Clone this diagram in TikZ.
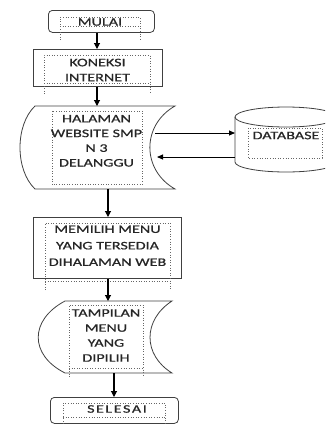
\documentclass[tikz,border=0pt]{standalone}
\usepackage{fontspec}
\setmainfont[FakeStretch=1.4,FakeBold=0.8]{Carlito}
\usetikzlibrary{arrows.meta}
\begin{document}
\begin{tikzpicture}[x=1pt,y=-1pt,
  shapeline/.style={draw=black!75,line width=0.8pt},
  dotbox/.style={draw=black!60,line width=0.6pt,dotted},
  arr/.style={line width=1.1pt,-{Triangle[length=6pt,width=6pt]}},
  lbl/.style={inner sep=0pt,align=center,text=black!85,font=\fontsize{11.5}{14.7}\selectfont},
  box/.style={shapeline,inner sep=0pt,anchor=north west},
  ghost/.style={inner sep=0pt,anchor=north west}]
\useasboundingbox (0,0) rectangle (325,424);
\clip (0,0) rectangle (325,424);
% columns
\coordinate (colA) at (97,0);
\coordinate (colB) at (108,0);
\coordinate (colC) at (114,0);
% MULAI
\node[box,rounded corners=4pt,minimum width=106pt,minimum height=22pt] (mulai) at (48,10) {};
\draw[dotbox] (60,40) -- (60,17) -- (140,17) -- (140,40);
\draw[dotbox] (60,26.5) -- (140,26.5);
\node[lbl] (tmulai) at (100,22) {MULAI};
% KONEKSI
\node[box,minimum width=129pt,minimum height=37pt] (koneksi) at (33,49) {};
\draw[dotbox] (44,94) -- (44,55) -- (150,55) -- (150,94);
\draw[dotbox] (44,83) -- (150,83);
\node[lbl,font=\fontsize{11.5}{15}\selectfont] (tkoneksi) at (97.5,70) {KONEKSI\\INTERNET};
% HALAMAN (stored data)
\node[ghost,minimum width=155pt,minimum height=83pt] (halaman) at (20,106) {};
\draw[shapeline] (35,106) -- (175,106) .. controls (141.5,125) and (141.5,170) .. (175,189)
  -- (35,189) .. controls (15,170) and (15,125) .. cycle;
\draw[dotbox] (52,111) rectangle (142,184.5);
\node[lbl] (thalaman) at (96.5,140.8) {HALAMAN\\WEBSITE SMP\\N 3\\DELANGGU};
% DATABASE (cylinder)
\node[ghost,minimum width=102pt,minimum height=65pt] (database) at (235,107) {};
\draw[shapeline] (286,117) ellipse [x radius=51pt,y radius=10pt];
\draw[shapeline] (235,117) -- (235,162) arc[start angle=180,end angle=360,x radius=51pt,y radius=10pt] -- (337,117);
\draw[dotbox] (248,128) rectangle (322,158);
\node[lbl] (tdatabase) at (286,135.5) {DATABASE};
% MEMILIH
\node[box,minimum width=148pt,minimum height=61pt] (memilih) at (33,217) {};
\draw[dotbox] (45,290) -- (45,223) -- (170,223) -- (170,290);
\draw[dotbox] (45,281) -- (170,281);
\node[lbl,font=\fontsize{11.5}{16.5}\selectfont] (tmemilih) at (107.5,245.7) {MEMILIH MENU\\YANG TERSEDIA\\DIHALAMAN WEB};
% TAMPILAN (stored data)
\node[ghost,minimum width=134pt,minimum height=72pt] (tampilan) at (38,301) {};
\draw[shapeline] (65,301) -- (172,301) .. controls (142.7,320) and (142.7,355) .. (172,373)
  -- (65,373) .. controls (29.3,355) and (29.3,320) .. cycle;
\draw[dotbox] (69,377) -- (69,305) -- (143,305) -- (143,377);
\draw[dotbox] (69,368) -- (143,368);
\node[lbl,font=\fontsize{11.5}{15}\selectfont] (ttampilan) at (106,335.5) {TAMPILAN\\MENU\\YANG\\DIPILIH};
% SELESAI
\node[box,rounded corners=4pt,minimum width=128pt,minimum height=26pt] (selesai) at (50,397) {};
\draw[dotbox] (63,424) -- (63,403) -- (165,403) -- (165,424);
\draw[dotbox] (63,417) -- (165,417);
\node[lbl] (tselesai) at (117,409) {S\kern1.5pt E\kern1.5pt L\kern1.5pt E\kern1.5pt S\kern1.5pt A\kern1.5pt I};
% connectors
\draw[arr] (mulai.south -| colA) -- (koneksi.north -| colA);
\draw[arr] (koneksi.south -| colA) -- (halaman.north -| colA);
\draw[arr] (halaman.south -| colB) -- (memilih.north -| colB);
\draw[arr] (memilih.south -| colB) -- (tampilan.north -| colB);
\draw[arr] (tampilan.south -| colC) -- (selesai.north -| colC);
\coordinate (h1) at (155,133);
\coordinate (h2) at (157,157);
\draw[line width=0.9pt,-{Triangle[length=6pt,width=5pt]}] (h1) -- (h1 -| database.west);
\draw[line width=0.9pt,-{Triangle[length=6pt,width=5pt]}] (h2 -| database.west) -- (h2);
\end{tikzpicture}
\end{document}
